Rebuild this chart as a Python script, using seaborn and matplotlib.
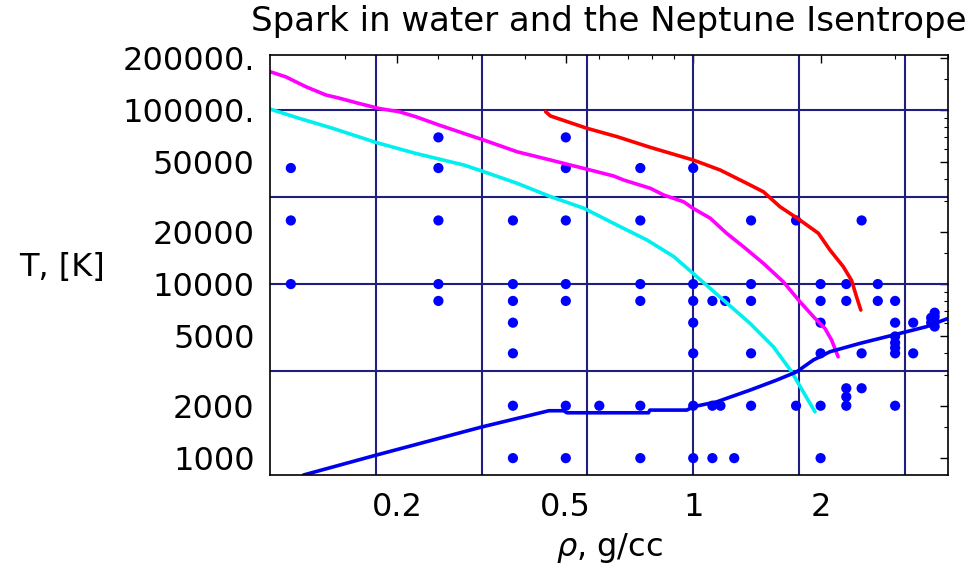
import numpy as np
import pandas as pd
import matplotlib
matplotlib.use("Agg")
import matplotlib.pyplot as plt
import seaborn as sns
from matplotlib.ticker import FixedLocator, NullFormatter, FixedFormatter

# ---------------- data ----------------
title_text = "Spark in water and the Neptune Isentrope"
xlabel_text = r"$\rho$, g/cc"
ylabel_text = "T, [K]"

x_ticks = [0.2, 0.5, 1, 2]
x_ticklabels = ["0.2", "0.5", "1", "2"]
y_ticks = [1000, 2000, 5000, 10000, 20000, 50000, 100000, 200000]
y_ticklabels = ["1000", "2000", "5000", "10000", "20000", "50000", "100000.", "200000."]

x_grid = [0.1778, 0.3162, 0.5623, 1.0, 1.778, 3.162]
y_grid = [3162, 10000, 31623, 100000]

# measured spark points (density g/cc, temperature K)
dot_rho = [0.112, 0.112, 0.112,
           0.25, 0.25, 0.25, 0.25, 0.25,
           0.375, 0.375, 0.375, 0.375, 0.375, 0.375, 0.375,
           0.5, 0.5, 0.5, 0.5, 0.5, 0.5, 0.5,
           0.6,
           0.75, 0.75, 0.75, 0.75, 0.75, 0.75,
           1.0, 1.0, 1.0, 1.0, 1.0, 1.0, 1.0,
           1.11, 1.11, 1.11,
           1.16, 1.19, 1.25,
           1.37, 1.37, 1.37, 1.37, 1.37,
           1.75, 1.75,
           2.0, 2.0, 2.0, 2.0, 2.0, 2.0,
           2.3, 2.3, 2.3, 2.3, 2.3,
           2.5, 2.5, 2.5,
           2.73, 2.73,
           3.0, 3.0, 3.0, 3.0, 3.0, 3.0, 3.0,
           3.31, 3.31,
           3.65, 3.65, 3.72, 3.72, 3.72, 3.72]
dot_T = [10000, 23200, 46400,
         8000, 10000, 23200, 46400, 69600,
         1000, 2000, 4000, 6000, 8000, 10000, 23200,
         1000, 2000, 8000, 10000, 23200, 46400, 69600,
         2000,
         1000, 2000, 8000, 10000, 23200, 46400,
         1000, 2000, 4000, 6000, 8000, 10000, 46400,
         1000, 2000, 8000,
         2000, 8000, 1000,
         2000, 4000, 8000, 10000, 23200,
         2000, 23200,
         1000, 2000, 4000, 6000, 8000, 10000,
         2000, 2250, 2520, 8000, 10000,
         2520, 4000, 23200,
         8000, 10000,
         2000, 4000, 4300, 4600, 5000, 6000, 8000,
         4000, 6000,
         6000, 6400, 5700, 6100, 6500, 6850]

magenta_rho = [0.1, 0.109, 0.1216, 0.1355, 0.1457, 0.1624, 0.1811, 0.2018, 0.221, 0.2507,
               0.287, 0.320, 0.384, 0.46, 0.551, 0.648, 0.685, 0.792, 0.851, 0.949, 1.0,
               1.097, 1.20, 1.314, 1.465, 1.633, 1.788, 1.94, 2.048, 2.124, 2.20]
magenta_T = [166000, 155000, 136000, 122000, 117000, 109000, 102000, 97800, 91500, 82000,
             73400, 67200, 57500, 51600, 46200, 41800, 39600, 35500, 32500, 29700, 27200,
             23900, 19550, 16400, 13150, 10300, 7910, 6350, 5560, 4760, 3820]

cyan_rho = [0.1, 0.1173, 0.1406, 0.178, 0.221, 0.287, 0.320, 0.384, 0.46, 0.551, 0.661,
            0.778, 0.899, 1.0, 1.179, 1.363, 1.547, 1.709, 1.82, 1.94]
cyan_T = [101300, 89500, 78500, 65100, 56300, 48300, 44200, 37900, 31800, 27300, 21800,
          17900, 14400, 11500, 8090, 5940, 4360, 3130, 2400, 1846]

red_rho = [0.448, 0.46, 0.504, 0.561, 0.661, 0.792, 1.0, 1.158, 1.339, 1.465, 1.604, 1.788,
           1.975, 2.104, 2.262, 2.367, 2.432, 2.489]
red_T = [97800, 92400, 85700, 78500, 70250, 61000, 51600, 45200, 37900, 33900, 27800, 23300,
         19600, 15700, 12600, 10500, 8450, 7090]

blue_rho = [0.12, 0.178, 0.3175, 0.456, 0.494, 0.503, 0.784, 0.79, 0.966, 1.0, 1.137, 1.363,
            1.575, 1.756, 1.922, 2.104, 2.477, 2.968, 3.557, 4.0]
blue_T = [800, 1040, 1513, 1872, 1872, 1822, 1822, 1888, 1888, 1973, 2107, 2460, 2808, 3133,
          3660, 4085, 4563, 5093, 5690, 6350]

# ---------------- style ----------------
sns.set_theme(style="white")
plt.rcParams["font.family"] = ["DejaVu Sans"]
plt.rcParams["mathtext.fontset"] = "dejavusans"

fig = plt.figure(figsize=(9.74, 5.65), dpi=100)
ax = fig.add_axes([270 / 974, 1 - 475 / 565, 678 / 974, 420 / 565])
ax.set_xscale("log")
ax.set_yscale("log")
ax.set_xlim(0.1, 4.0)
ax.set_ylim(800, 207000)

grid_color = "#1f1f80"
for gx in x_grid:
    ax.axvline(gx, color=grid_color, lw=1.5, zorder=1)
for gy in y_grid:
    ax.axhline(gy, color=grid_color, lw=1.5, zorder=1)

dots = pd.DataFrame({"rho": dot_rho, "T": dot_T})
sns.scatterplot(data=dots, x="rho", y="T", color="#0000ff", s=54, edgecolor="none",
                ax=ax, zorder=3, legend=False)

curves = pd.concat([
    pd.DataFrame({"rho": cyan_rho, "T": cyan_T, "curve": "cyan"}),
    pd.DataFrame({"rho": magenta_rho, "T": magenta_T, "curve": "magenta"}),
    pd.DataFrame({"rho": red_rho, "T": red_T, "curve": "red"}),
    pd.DataFrame({"rho": blue_rho, "T": blue_T, "curve": "blue"}),
], ignore_index=True)
palette = {"cyan": "#00f0f0", "magenta": "#ff00ff", "red": "#ff0000", "blue": "#0000f0"}
sns.lineplot(data=curves, x="rho", y="T", hue="curve", palette=palette, sort=False,
             estimator=None, lw=2.6, ax=ax, zorder=4, legend=False)

# ticks
ax.xaxis.set_major_locator(FixedLocator(x_ticks))
ax.xaxis.set_major_formatter(FixedFormatter(x_ticklabels))
ax.xaxis.set_minor_locator(FixedLocator([0.3, 0.4, 0.6, 0.7, 0.8, 0.9, 3, 4] +
                                        [0.15, 0.25]))
ax.xaxis.set_minor_formatter(NullFormatter())
ax.yaxis.set_major_locator(FixedLocator(y_ticks))
ax.yaxis.set_major_formatter(FixedFormatter(y_ticklabels))
ax.yaxis.set_minor_locator(FixedLocator([3000, 4000, 6000, 7000, 8000, 9000,
                                         30000, 40000, 60000, 70000, 80000, 90000,
                                         1500, 15000, 150000]))
ax.yaxis.set_minor_formatter(NullFormatter())
ax.tick_params(axis="both", which="both", direction="in", top=True, right=True,
               color="black", labelsize=23, labelcolor="black")
ax.tick_params(axis="both", which="major", length=6, width=1.0)
ax.tick_params(axis="both", which="minor", length=3, width=0.8)
ax.tick_params(axis="y", which="major", pad=11)
ax.tick_params(axis="x", which="major", pad=12)

for sp in ax.spines.values():
    sp.set_color("black")
    sp.set_linewidth(1.2)
    sp.set_zorder(5)

ax.set_xlabel(xlabel_text, fontsize=23, color="black")
ax.xaxis.set_label_coords(0.5, -0.133)
ax.xaxis.label.set_va("top")
ax.set_ylabel(ylabel_text, fontsize=23, color="black", rotation=0, ha="center", va="center")
ax.yaxis.set_label_coords((62 - 270) / 678, (475 - 268) / 420)
ax.set_title(title_text, fontsize=24.5, color="black", pad=17)

fig.savefig("out.png", dpi=100)
